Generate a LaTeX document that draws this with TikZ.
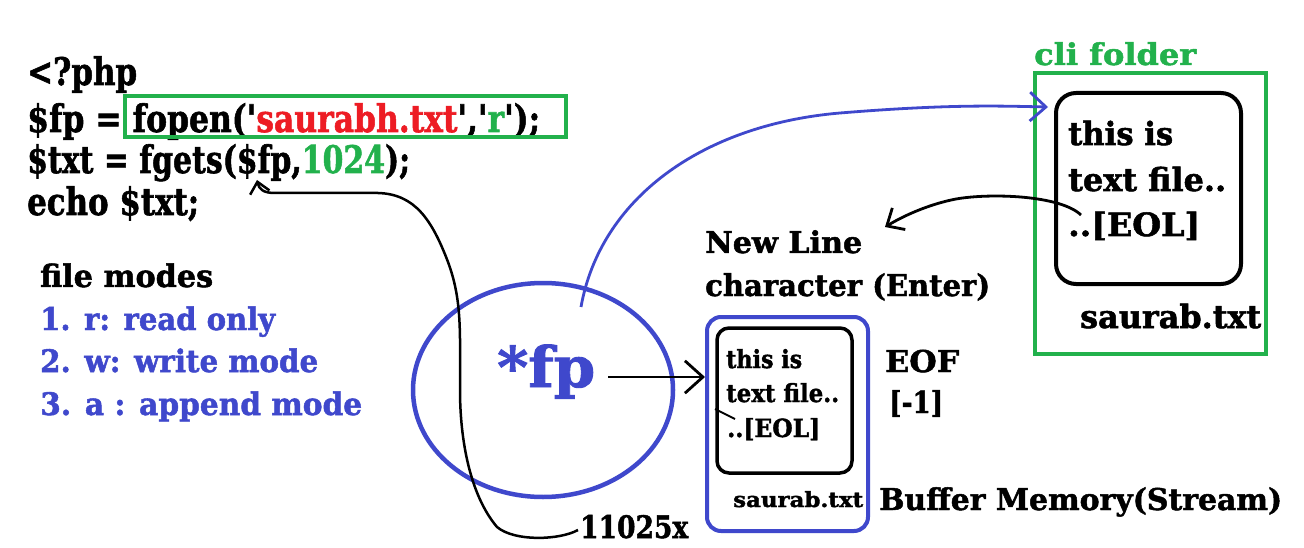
\documentclass[tikz,border=0pt]{standalone}
\usepackage{fontspec}
\usepackage{graphicx}
\newfontfamily\rk{DejaVu Serif}[BoldFeatures={FakeBold=1.6}]
\usetikzlibrary{arrows.meta,shapes.geometric}
\definecolor{pblue}{HTML}{3F48CC}
\definecolor{pgreen}{HTML}{22B14C}
\definecolor{pred}{HTML}{ED1C24}
\newcommand{\fitw}[2]{\resizebox{#1pt}{\height}{#2}}
\tikzset{
  txt/.style={inner sep=0pt, anchor=base west},
  code/.style={txt, font=\rk\bfseries\fontsize{38}{40}\selectfont},
  fm/.style={txt, font=\rk\bfseries\fontsize{31}{33}\selectfont},
  lbl/.style={txt, font=\rk\bfseries\fontsize{30}{32}\selectfont},
  bt/.style={txt, font=\rk\bfseries\fontsize{25}{27}\selectfont},
  st/.style={txt, font=\rk\bfseries\fontsize{21}{23}\selectfont},
  rt/.style={txt, font=\rk\bfseries\fontsize{32}{34}\selectfont},
  gbox/.style={draw=pgreen, line width=3.5pt},
  barb/.style={-{Straight Barb[length=#1pt, width=#1pt*1.8]}},
}
\begin{document}
\begin{tikzpicture}[x=1pt,y=-1pt]
\useasboundingbox (0,0) rectangle (1304,548);
\fill[white] (0,0) rectangle (1304,548);

% code
\node[code] (l1) at (27,85) {\fitw{110}{<?php}};
\node[code] (l2) at (27,132) {\fitw{513}{\$fp = fopen('\textcolor{pred}{saurabh.txt}','\textcolor{pgreen}{r}');}};
\node[code] (l3) at (27,173) {\fitw{383}{\$txt = fgets(\$fp,\textcolor{pgreen}{1024});}};
\node[code] (l4) at (27,215) {\fitw{172}{echo \$txt;}};
\draw[gbox] (125,96) rectangle (566,137);

% file modes
\node[fm] (fmh) at (40,287) {\fitw{173}{file modes}};
\node[fm, text=pblue] (m1) at (40,330) {\fitw{235}{1. r: read only}};
\node[fm, text=pblue] (m2) at (40,372) {\fitw{278}{2. w: write mode}};
\node[fm, text=pblue] (m3) at (40,415) {\fitw{322}{3. a : append mode}};

% pointer circle
\node[draw=pblue, line width=4.5pt, ellipse, minimum width=260pt, minimum height=214pt, inner sep=0pt] (circ) at (543,390) {};
\node[txt, font=\rk\bfseries\fontsize{56}{58}\selectfont, text=pblue] (fp) at (497,387) {\fitw{98}{*fp}};
\node[txt, font=\rk\bfseries\fontsize{31}{33}\selectfont] (num) at (580,538) {\fitw{108}{11025x}};

% buffer
\node[draw=pblue, line width=4pt, rounded corners=14pt, minimum width=161pt, minimum height=214pt, inner sep=0pt] (buf) at (787.5,424) {};
\node[draw=black, line width=3.5pt, rounded corners=12pt, minimum width=135pt, minimum height=145pt, inner sep=0pt] (bin) at (784.5,400.5) {};
\node[bt] (b1) at (726,368) {\fitw{76}{this is}};
\node[bt] (b2) at (726,402) {\fitw{113}{text file..}};
\node[bt] (b3) at (727,437) {\fitw{93}{..[EOL]}};
\node[st] (bs) at (733,507) {\fitw{130}{saurab.txt}};
\draw[line width=1.8pt] (715,409) -- (735,419);

\node[lbl] (eof) at (885,372) {\fitw{74}{EOF}};
\node[lbl] (neg) at (889,413) {\fitw{54}{[-1]}};
\node[lbl] (bm) at (879,510) {\fitw{403}{Buffer Memory(Stream)}};
\node[lbl] (nl1) at (705,253) {\fitw{157}{New Line}};
\node[lbl] (nl2) at (705,296) {\fitw{285}{character (Enter)}};

% cli folder
\node[lbl, text=pgreen] (clil) at (1034,65) {\fitw{162}{cli folder}};
\node[draw=pgreen, line width=4pt, minimum width=231pt, minimum height=281pt, inner sep=0pt] (cli) at (1150.5,213.5) {};
\node[draw=black, line width=4pt, rounded corners=20pt, minimum width=185pt, minimum height=191pt, inner sep=0pt] (fin) at (1148.5,188.5) {};
\node[rt] (f1) at (1068,145) {\fitw{105}{this is}};
\node[rt] (f2) at (1068,191) {\fitw{158}{text file..}};
\node[rt] (f3) at (1068,236) {\fitw{132}{..[EOL]}};
\node[rt] (fs) at (1080,328) {\fitw{181}{saurab.txt}};

% connectors
\coordinate (bs0) at (581,307);
\coordinate (btip) at (1048,107);
\draw[pblue, line width=2.8pt, barb=16] (bs0) .. controls (600,200) and (700,125) .. (840,113) .. controls (950,104) and (1000,106) .. (btip);

\coordinate (es) at (1081,215);
\coordinate (et) at (885,227);
\draw[line width=2.8pt, barb=14] (es) .. controls (1060,195) and (990,193) .. (956,199) .. controls (930,204) and (905,215) .. (et);

\coordinate (fpo) at (608,377);
\draw[line width=2.8pt, barb=18] (fpo) -- (fpo -| buf.west);

\coordinate (ns) at (578,530);
\coordinate (ft) at (257,180);
\draw[line width=2.5pt, barb=11] (ns) .. controls (560,540) and (515,542) .. (497,527) .. controls (470,495) and (460,440) .. (460,390) .. controls (460,330) and (462,300) .. (448,262) .. controls (432,220) and (415,194) .. (378,193) -- (275,193) .. controls (263,193) and (259,189) .. (ft);
\end{tikzpicture}
\end{document}
